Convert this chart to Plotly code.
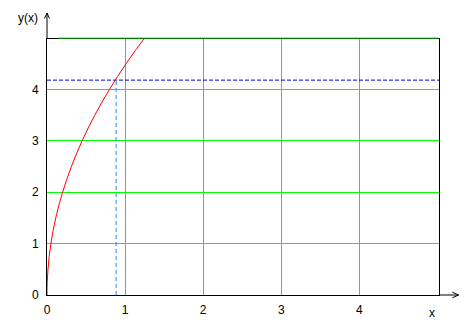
import plotly.graph_objects as go

# Curve y(x)
curve_x = [0, 0.003, 0.0125, 0.028, 0.05, 0.078, 0.1125, 0.153, 0.2, 0.253, 0.3125,
           0.378, 0.45, 0.528, 0.6125, 0.703, 0.8, 0.903, 1.0125, 1.128, 1.25]
curve_y = [0, 0.25, 0.5, 0.75, 1.0, 1.25, 1.5, 1.75, 2.0, 2.25, 2.5,
           2.75, 3.0, 3.25, 3.5, 3.75, 4.0, 4.25, 4.5, 4.75, 5.0]

# Marked point (dashed guides)
mark_x = 0.885
mark_y = 4.18

x_ticks = [0, 1, 2, 3, 4]
y_ticks = [0, 1, 2, 3, 4]
x_range = [0, 5.02]
y_range = [0, 4.98]
top_grid_y = 5.0

W, H = 475, 329
L, R, T, B = 47.3, 438.7, 39.3, 295.3


def px_x(p):
    return (p - L) / (R - L)


def px_y(p):
    return (B - p) / (B - T)


fig = go.Figure()

# horizontal dashed guide
fig.add_trace(go.Scatter(x=[x_range[0], x_range[1]], y=[mark_y, mark_y], mode="lines",
                         line=dict(color="#0000CC", width=1, dash="4px,2px"),
                         hoverinfo="skip", showlegend=False))
# vertical dashed guide
fig.add_trace(go.Scatter(x=[mark_x, mark_x], y=[0, mark_y], mode="lines",
                         line=dict(color="#1E8FFF", width=1, dash="4px,3px"),
                         hoverinfo="skip", showlegend=False))
# curve
fig.add_trace(go.Scatter(x=curve_x, y=curve_y, mode="lines",
                         line=dict(color="#FF0000", width=1, shape="spline"),
                         showlegend=False))

shapes = []
# top green grid line at y=5 (just above the frame)
shapes.append(dict(type="line", xref="x", yref="paper", x0=0.14, x1=x_range[1] - 0.01,
                   y0=px_y(38.3), y1=px_y(38.3), line=dict(color="#00FF00", width=1)))
# y axis extension with arrow
shapes.append(dict(type="line", xref="paper", yref="paper", x0=0, x1=0,
                   y0=1, y1=px_y(13.3), line=dict(color="black", width=1)))
shapes.append(dict(type="path", xref="paper", yref="paper",
                   path=f"M {px_x(44.8)} {px_y(18.8)} L {px_x(47.3)} {px_y(13.3)} L {px_x(49.8)} {px_y(18.8)}",
                   line=dict(color="black", width=1)))
# x axis extension with arrow
shapes.append(dict(type="line", xref="paper", yref="paper", x0=1, x1=px_x(458.3),
                   y0=0, y1=0, line=dict(color="black", width=1)))
shapes.append(dict(type="path", xref="paper", yref="paper",
                   path=f"M {px_x(452)} {px_y(292.5)} L {px_x(458.3)} {px_y(295.3)} L {px_x(452)} {px_y(298.1)}",
                   line=dict(color="black", width=1)))

annotations = [
    dict(text="y(x)", xref="paper", yref="paper", x=px_x(28), y=px_y(18),
         xanchor="center", yanchor="middle", showarrow=False,
         font=dict(size=12, color="black")),
    dict(text="x", xref="paper", yref="paper", x=px_x(432), y=px_y(313),
         xanchor="center", yanchor="middle", showarrow=False,
         font=dict(size=12, color="black")),
]

fig.update_layout(
    width=W, height=H,
    margin=dict(l=L, r=W - R, t=T, b=H - B, pad=0),
    paper_bgcolor="white", plot_bgcolor="white",
    font=dict(family="Liberation Sans, Arial, sans-serif", size=12, color="black"),
    shapes=shapes, annotations=annotations,
    xaxis=dict(range=x_range, tickvals=x_ticks, ticktext=[str(v) for v in x_ticks],
               showgrid=True, gridcolor="#00FF00", gridwidth=1, zeroline=False,
               showline=True, linecolor="black", linewidth=1, mirror=True,
               ticks="", ticklabelstandoff=4, fixedrange=True),
    yaxis=dict(range=y_range, tickvals=y_ticks, ticktext=[str(v) for v in y_ticks],
               showgrid=True, gridcolor="#00FF00", gridwidth=1, zeroline=False,
               showline=True, linecolor="black", linewidth=1, mirror=True,
               ticks="", ticklabelstandoff=5, fixedrange=True),
)

fig.write_html("out.html", config={"displayModeBar": False})
